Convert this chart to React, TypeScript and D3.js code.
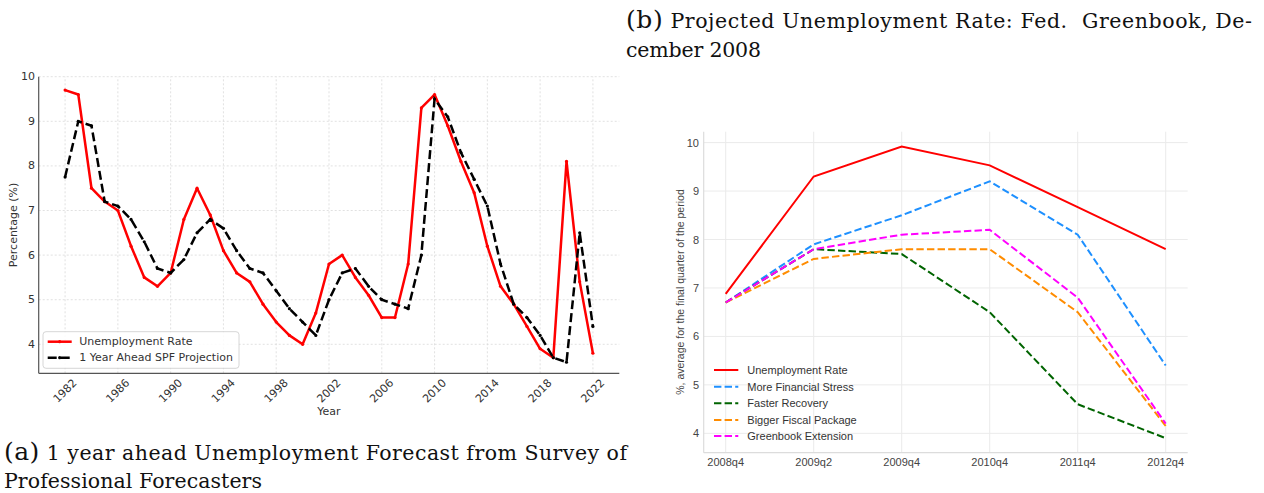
import * as d3 from 'd3';

// ---- panel (a): annual unemployment vs. 1 year ahead SPF projection ----
const years = [
  1982, 1983, 1984, 1985, 1986, 1987, 1988, 1989, 1990, 1991, 1992, 1993, 1994, 1995,
  1996, 1997, 1998, 1999, 2000, 2001, 2002, 2003, 2004, 2005, 2006, 2007, 2008, 2009,
  2010, 2011, 2012, 2013, 2014, 2015, 2016, 2017, 2018, 2019, 2020, 2021, 2022,
];
const unemployment = [
  9.7, 9.6, 7.5, 7.2, 7.0, 6.2, 5.5, 5.3, 5.6, 6.8, 7.5, 6.9, 6.1, 5.6,
  5.4, 4.9, 4.5, 4.2, 4.0, 4.7, 5.8, 6.0, 5.5, 5.1, 4.6, 4.6, 5.8, 9.3,
  9.6, 8.9, 8.1, 7.4, 6.2, 5.3, 4.9, 4.4, 3.9, 3.7, 8.1, 5.4, 3.8,
];
const spfProjection = [
  7.75, 9.0, 8.9, 7.2, 7.1, 6.8, 6.3, 5.7, 5.6, 5.9, 6.5, 6.8, 6.6, 6.1,
  5.7, 5.6, 5.2, 4.8, 4.5, 4.2, 5.0, 5.6, 5.7, 5.3, 5.0, 4.9, 4.8, 6.0,
  9.5, 9.1, 8.3, 7.7, 7.1, 5.8, 4.9, 4.6, 4.2, 3.7, 3.6, 6.5, 4.4,
];
const yearTicks = [1982, 1986, 1990, 1994, 1998, 2002, 2006, 2010, 2014, 2018, 2022];
const pctTicksA = [4, 5, 6, 7, 8, 9, 10];

// ---- panel (b): Greenbook December 2008 scenarios ----
const quarters = ['2008q4', '2009q2', '2009q4', '2010q4', '2011q4', '2012q4'];
const greenbook = [
  { name: 'Unemployment Rate', color: '#ff0000', dashed: false, values: [6.88, 9.3, 9.92, 9.53, 8.67, 7.8] },
  { name: 'More Financial Stress', color: '#1e90ff', dashed: true, values: [6.7, 7.9, 8.5, 9.2, 8.1, 5.4] },
  { name: 'Faster Recovery', color: '#006400', dashed: true, values: [6.7, 7.8, 7.7, 6.5, 4.6, 3.9] },
  { name: 'Bigger Fiscal Package', color: '#ff8c00', dashed: true, values: [6.7, 7.6, 7.8, 7.8, 6.5, 4.15] },
  { name: 'Greenbook Extension', color: '#ff00ff', dashed: true, values: [6.7, 7.8, 8.1, 8.2, 6.8, 4.2] },
];
const pctTicksB = [4, 5, 6, 7, 8, 9, 10];

const sans = '"DejaVu Sans", sans-serif';
const arial = '"Liberation Sans", Arial, sans-serif';
const serif = '"DejaVu Serif", serif';

function PanelA() {
  const x = d3.scaleLinear().domain([1980, 2024]).range([38.7, 619.3]);
  const y = d3.scaleLinear().domain([3.35, 10.0]).range([373.3, 76.7]);
  const line = d3.line<number>().x((_, i) => x(years[i])).y((d) => y(d));
  const [x0, x1] = x.range();
  const [y0, y1] = y.range();

  return (
    <g>
      {pctTicksA.map((t) => (
        <line key={'gy' + t} x1={x0} x2={x1} y1={y(t)} y2={y(t)} stroke="#d9d9d9" strokeWidth={0.8} strokeDasharray="2,2" />
      ))}
      {yearTicks.map((t) => (
        <line key={'gx' + t} x1={x(t)} x2={x(t)} y1={y0} y2={y1} stroke="#d9d9d9" strokeWidth={0.8} strokeDasharray="2,2" />
      ))}
      <line x1={x0} x2={x0} y1={y0} y2={y1} stroke="#555" strokeWidth={1.2} />
      <line x1={x0} x2={x1} y1={y0} y2={y0} stroke="#555" strokeWidth={1.2} />

      {pctTicksA.map((t) => (
        <text key={'ty' + t} x={35} y={y(t)} textAnchor="end" dominantBaseline="central" fontSize={11} fill="#333" fontFamily={sans}>
          {t}
        </text>
      ))}
      {yearTicks.map((t) => (
        <text
          key={'tx' + t}
          transform={`translate(${x(t)},391) rotate(-45)`}
          textAnchor="middle"
          dominantBaseline="central"
          fontSize={11}
          fill="#333"
          fontFamily={sans}
        >
          {t}
        </text>
      ))}
      <text transform="translate(13,225) rotate(-90)" textAnchor="middle" dominantBaseline="central" fontSize={11} fill="#333" fontFamily={sans}>
        Percentage (%)
      </text>
      <text x={(x0 + x1) / 2} y={415} textAnchor="middle" fontSize={11} fill="#333" fontFamily={sans}>
        Year
      </text>

      <path d={line(unemployment) ?? ''} fill="none" stroke="#ff0000" strokeWidth={2.5} strokeLinejoin="round" />
      {unemployment.map((v, i) => (
        <circle key={'mu' + i} cx={x(years[i])} cy={y(v)} r={1.6} fill="#ff0000" />
      ))}
      <path d={line(spfProjection) ?? ''} fill="none" stroke="#000" strokeWidth={2.5} strokeDasharray="9,4" />
      {spfProjection.map((v, i) => (
        <circle key={'ms' + i} cx={x(years[i])} cy={y(v)} r={1.6} fill="#000" />
      ))}

      <rect x={43} y={331.7} width={196} height={36.6} rx={3} fill="#fff" fillOpacity={0.85} stroke="#ccc" strokeWidth={0.8} />
      <line x1={47.7} x2={71.7} y1={341.7} y2={341.7} stroke="#ff0000" strokeWidth={2.5} />
      <circle cx={59.7} cy={341.7} r={1.6} fill="#ff0000" />
      <text x={79.3} y={341.7} dominantBaseline="central" fontSize={11} fill="#333" fontFamily={sans}>
        Unemployment Rate
      </text>
      <line x1={47.7} x2={71.7} y1={357.7} y2={357.7} stroke="#000" strokeWidth={2.5} strokeDasharray="9,4" />
      <circle cx={59.7} cy={357.7} r={1.6} fill="#000" />
      <text x={79.3} y={357.7} dominantBaseline="central" fontSize={11} fill="#333" fontFamily={sans}>
        1 Year Ahead SPF Projection
      </text>
    </g>
  );
}

function PanelB() {
  const x = d3.scaleLinear().domain([-0.25, quarters.length - 0.75]).range([703.7, 1187.7]);
  const y = d3.scaleLinear().domain([3.6, 10.225]).range([452.7, 131.7]);
  const line = d3.line<number>().x((_, i) => x(i)).y((d) => y(d));
  const [x0, x1] = x.range();
  const [y0, y1] = y.range();
  const legendY = [370, 386.7, 403.3, 420, 436];

  return (
    <g>
      {pctTicksB.map((t) => (
        <line key={'gy' + t} x1={x0} x2={x1} y1={y(t)} y2={y(t)} stroke="#ebebeb" strokeWidth={1} />
      ))}
      {quarters.map((q, i) => (
        <line key={'gx' + q} x1={x(i)} x2={x(i)} y1={y0} y2={y1} stroke="#ebebeb" strokeWidth={1} />
      ))}
      <line x1={x0} x2={x0} y1={y0} y2={y1} stroke="#dcdcdc" strokeWidth={1.2} />
      <line x1={x0} x2={x1} y1={y0} y2={y0} stroke="#dcdcdc" strokeWidth={1.2} />

      {pctTicksB.map((t) => (
        <text key={'ty' + t} x={699} y={y(t)} textAnchor="end" dominantBaseline="central" fontSize={11} fill="#444" fontFamily={arial}>
          {t}
        </text>
      ))}
      {quarters.map((q, i) => (
        <text key={'tx' + q} x={x(i)} y={462} textAnchor="middle" dominantBaseline="central" fontSize={11} fill="#444" fontFamily={arial}>
          {q}
        </text>
      ))}
      <text transform="translate(680,292) rotate(-90)" textAnchor="middle" dominantBaseline="central" fontSize={10.5} fill="#444" fontFamily={arial}>
        %, average for the final quarter of the period
      </text>

      {greenbook.map((s) => (
        <path
          key={s.name}
          d={line(s.values) ?? ''}
          fill="none"
          stroke={s.color}
          strokeWidth={2}
          strokeDasharray={s.dashed ? '7.4,3.2' : undefined}
        />
      ))}

      {greenbook.map((s, i) => (
        <g key={'lg' + s.name}>
          <line x1={714} x2={738.3} y1={legendY[i]} y2={legendY[i]} stroke={s.color} strokeWidth={2} strokeDasharray={s.dashed ? '7.4,3.2' : undefined} />
          <text x={747.3} y={legendY[i]} dominantBaseline="central" fontSize={11} fill="#333" fontFamily={arial}>
            {s.name}
          </text>
        </g>
      ))}
    </g>
  );
}

export default function App() {
  return (
    <svg width={1264} height={493} style={{ position: 'absolute', left: 0, top: 0, background: '#fff' }}>
      <PanelA />
      <PanelB />

      <text x={4} y={460} fontFamily={serif} fontSize={20.5} fill="#111" textLength={623} lengthAdjust="spacing">
        <tspan fontSize={25}>(a)</tspan> 1 year ahead Unemployment Forecast from Survey of
      </text>
      <text x={4} y={488} fontFamily={serif} fontSize={20.5} fill="#111" textLength={258} lengthAdjust="spacing">
        Professional Forecasters
      </text>
      <text x={626} y={28} fontFamily={serif} fontSize={20.5} fill="#111" textLength={626} lengthAdjust="spacing">
        <tspan fontSize={25}>(b)</tspan> {'Projected Unemployment Rate: Fed.\u00a0 Greenbook, De-'}
      </text>
      <text x={626} y={57} fontFamily={serif} fontSize={20.5} fill="#111" textLength={135} lengthAdjust="spacing">
        cember 2008
      </text>
    </svg>
  );
}
